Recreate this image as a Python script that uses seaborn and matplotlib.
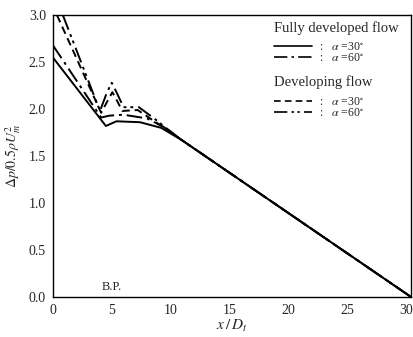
import numpy as np
import pandas as pd
import matplotlib
matplotlib.use("Agg")
import matplotlib.pyplot as plt
import seaborn as sns
from matplotlib.lines import Line2D

# fully developed flow
fd30_x = [0, 4.5, 5.4, 7.4, 9.2, 11.0, 30.4]
fd30_y = [2.55, 1.82, 1.87, 1.86, 1.80, 1.665, 0.0]
fd60_x = [0, 4.1, 4.8, 6.0, 8.0, 9.4, 11.0, 30.4]
fd60_y = [2.68, 1.91, 1.93, 1.94, 1.90, 1.81, 1.665, 0.0]

# developing flow
dev30_x = [0.35, 4.1, 4.7, 5.05, 5.4, 5.9, 7.2, 8.5, 9.6, 11.0, 30.4]
dev30_y = [3.0, 1.96, 2.10, 2.18, 2.10, 1.98, 1.99, 1.88, 1.79, 1.665, 0.0]
dev60_x = [0.85, 4.0, 4.6, 5.0, 5.4, 6.0, 7.3, 8.6, 9.6, 11.0, 30.4]
dev60_y = [3.0, 1.98, 2.18, 2.28, 2.18, 2.02, 2.02, 1.90, 1.80, 1.665, 0.0]

x_ticks = [0, 5, 10, 15, 20, 25, 30]
y_ticks = [0.0, 0.5, 1.0, 1.5, 2.0, 2.5, 3.0]

sns.set_theme(style="white")
plt.rcParams['font.family'] = ['Liberation Serif', 'DejaVu Serif']
plt.rcParams['mathtext.fontset'] = 'stix'

fig = plt.figure(figsize=(4.13, 3.37), dpi=100)
ax = fig.add_axes([0.128, 0.119, 0.867, 0.836])

styles = {
    'fd30': '-',
    'fd60': (0, (8, 2.5, 1.5, 2.5)),
    'dev30': (0, (4, 2.5)),
    'dev60': (0, (8, 2.5, 1.5, 2, 1.5, 2.5)),
}
curves = [('fd30', fd30_x, fd30_y), ('fd60', fd60_x, fd60_y),
          ('dev30', dev30_x, dev30_y), ('dev60', dev60_x, dev60_y)]
for key, xs, ys in curves:
    df = pd.DataFrame({'x': xs, 'y': ys})
    sns.lineplot(data=df, x='x', y='y', ax=ax, color='black', linewidth=1.4,
                 linestyle=styles[key], sort=False, estimator=None)

ax.set_xlim(0, 30.4)
ax.set_ylim(0, 3.0)
ax.set_xticks(x_ticks)
ax.set_yticks(y_ticks)
ax.set_yticklabels([f'{v:.1f}' for v in y_ticks])
ax.tick_params(axis='x', direction='in', length=3, width=0.8, labelsize=10, pad=5)
ax.tick_params(axis='y', direction='out', length=3, width=0.8, labelsize=10, pad=2)
for s in ax.spines.values():
    s.set_color('black')
    s.set_linewidth(1.0)

ax.set_xlabel('$x\\,/\\,D_t$', fontsize=11, labelpad=1)
ax.set_ylabel('$\\Delta p/0.5\\rho U_m^2$', fontsize=10, labelpad=4)

ax.text(5, 0.04, 'B.P.', ha='center', va='bottom', fontsize=9)

# legend blocks
ax.text(0.617, 0.954, 'Fully developed flow', transform=ax.transAxes,
        ha='left', va='center', fontsize=10.5)
ax.text(0.617, 0.762, 'Developing flow', transform=ax.transAxes,
        ha='left', va='center', fontsize=10.5)

h1 = [Line2D([], [], color='black', lw=1.2, linestyle=styles['fd30']),
      Line2D([], [], color='black', lw=1.2, linestyle=styles['fd60'])]
h2 = [Line2D([], [], color='black', lw=1.2, linestyle=styles['dev30']),
      Line2D([], [], color='black', lw=1.2, linestyle=styles['dev60'])]
labels = [':   $\\alpha$ =30$^{\\circ}$', ':   $\\alpha$ =60$^{\\circ}$']

leg_kw = dict(loc='center left', frameon=False, fontsize=8.5,
              handlelength=3.2, handletextpad=0.6, labelspacing=-0.05,
              borderpad=0.0, borderaxespad=0.0)
leg1 = ax.legend(h1, labels, bbox_to_anchor=(0.617, 0.867), **leg_kw)
ax.add_artist(leg1)
ax.legend(h2, labels, bbox_to_anchor=(0.617, 0.672), **leg_kw)

plt.savefig('out.png', dpi=100, facecolor='white')
plt.close()
